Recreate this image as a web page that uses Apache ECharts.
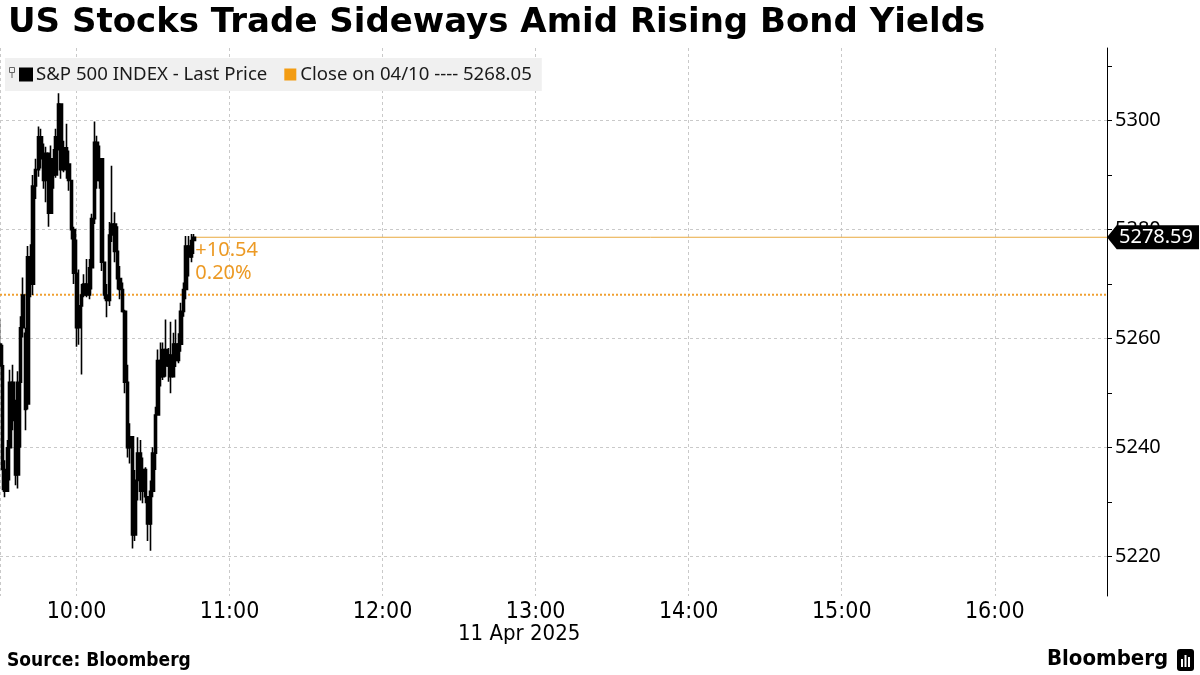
<!DOCTYPE html>
<html><head><meta charset="utf-8">
<script src="https://cdn.jsdelivr.net/npm/echarts@6/dist/echarts.min.js"></script>
<style>html,body{margin:0;padding:0;background:#fff}#c{width:1200px;height:675px}</style>
</head><body><div id="c"></div><script>
// ---- data ----
const chartTitle = 'US Stocks Trade Sideways Amid Rising Bond Yields';
const seriesName = 'S&P 500 INDEX - Last Price';
const closeName = 'Close on 04/10 ---- 5268.05';
const sessionStartMin = 570;   // 09:30
const sessionEndMin = 1004;    // 16:44
const hourLabels = ['10:00', '11:00', '12:00', '13:00', '14:00', '15:00', '16:00'];
const dateLabel = '11 Apr 2025';
const yLabelValues = [5220, 5240, 5260, 5280, 5300];
const yMinorValues = [5230, 5250, 5270, 5290, 5310];
const prevClose = 5268.05;
const lastPrice = 5278.59;
const changeText = '+10.54';
const changePctText = '0.20%';

// one-minute bars from 09:30
const opens = [5259,5255,5236,5232,5240,5252,5245,5235,5252,5262,5261,5248,5275,5270,5288,5291,5297,5293,5289,5294,
  5283,5293,5290,5297,5303,5291,5295,5292,5289,5280,5272,5262,5266,5268,5270,5268,5273,5282,5296,5289,
  5293,5274,5268,5267,5279,5281,5276,5271,5269,5265,5252,5240,5242,5224,5234,5239,5232,5236,5231,5226,
  5232,5239,5246,5256,5253,5258,5255,5257,5253,5259,5256,5259,5265,5269,5277,5275,5278];
const closes = [5255,5236,5232,5240,5252,5245,5235,5252,5262,5268,5247,5275,5270,5288,5291,5297,5293,5289,5294,5283,
  5293,5290,5297,5303,5291,5295,5292,5289,5280,5272,5262,5266,5268,5270,5268,5273,5282,5296,5289,5293,
  5274,5268,5267,5279,5281,5276,5271,5269,5265,5252,5240,5242,5224,5234,5239,5232,5236,5231,5226,5232,
  5239,5246,5256,5253,5258,5255,5257,5253,5259,5256,5259,5265,5269,5277,5275,5278,5278.59];
const lows = [5252.4,5232.2,5230.9,5232.2,5234.0,5243.2,5233.1,5232.5,5240.0,5260.2,5243.2,5247.0,5267.6,5268.0,5285.6,5289.7,5291.2,5287.5,5285.0,5280.5,
  5283.0,5287.5,5289.5,5294.5,5289.3,5290.5,5289.3,5287.1,5278.2,5270.0,5258.5,5258.9,5253.4,5267.6,5267.6,5267.2,5269.0,5281.0,5287.5,5287.5,
  5272.4,5267.2,5263.9,5266.0,5277.7,5274.0,5269.0,5267.2,5264.8,5250.0,5238.2,5237.1,5221.5,5222.9,5230.3,5230.3,5229.8,5229.8,5222.9,5221.1,
  5230.9,5235.9,5246.0,5251.2,5252.4,5253.0,5252.1,5250.0,5253.0,5254.8,5255.5,5257.6,5264.0,5267.2,5271.4,5274.0,5275.5];
const highs = [5263.5,5258.9,5237.7,5241.4,5254.3,5255.2,5248.8,5254.0,5264.1,5271.2,5262.0,5277.0,5277.3,5290.0,5293.0,5298.9,5298.5,5295.8,5295.2,5294.0,
  5295.4,5294.8,5298.5,5305.0,5302.8,5296.3,5299.4,5294.5,5289.0,5280.5,5278.2,5272.7,5270.0,5271.8,5274.6,5274.6,5282.9,5299.8,5297.2,5295.4,
  5293.0,5274.0,5270.0,5281.4,5291.7,5283.2,5280.6,5273.3,5270.3,5265.3,5255.2,5244.5,5242.0,5235.9,5241.9,5241.4,5238.2,5236.4,5231.0,5234.0,
  5240.1,5247.5,5258.0,5259.3,5259.3,5263.5,5258.3,5263.1,5261.1,5263.5,5261.0,5266.6,5270.3,5278.8,5278.8,5279.2,5279.2];

// ---- build axis domain / series data ----
function fmt(m) { const h = Math.floor(m / 60), mm = m % 60; return (h < 10 ? '0' : '') + h + ':' + (mm < 10 ? '0' : '') + mm; }
const categories = [];
for (let m = sessionStartMin; m <= sessionEndMin; m++) categories.push(fmt(m));
const ohlc = opens.map((o, i) => [o, closes[i], lows[i], highs[i]]);
const lastTime = categories[opens.length - 1];
const firstTime = categories[0];
const endTime = categories[categories.length - 1];

const ORANGE = '#ec9a25';
const gridDash = { color: '#c9c9c9', type: [3, 3], width: 1 };
const yMin = 5212.8, yMax = 5313.3;
const NARROW = "'Liberation Sans Narrow', 'DejaVu Sans Condensed', sans-serif";

const chart = echarts.init(document.getElementById('c'), null, { renderer: 'canvas' });
chart.setOption({
  animation: false,
  backgroundColor: '#fff',
  title: {
    text: chartTitle, left: 3, top: 1,
    textStyle: { fontFamily: "'DejaVu Sans', sans-serif", fontWeight: 'bold', fontSize: 34, color: '#000' }
  },
  legend: {
    data: [seriesName, closeName],
    left: 5, top: 58,
    backgroundColor: '#f0f0f0',
    padding: [7, 10, 7, 14],
    itemGap: 17, itemWidth: 12, itemHeight: 12, icon: 'rect',
    textStyle: { fontFamily: "'Noto Sans', sans-serif", fontSize: 18.6, color: '#1a1a1a', padding: [0, 0, 0, -1] },
    selectedMode: false
  },
  grid: { left: 0, right: 93, top: 48, bottom: 79, containLabel: false },
  xAxis: {
    type: 'category', data: categories, boundaryGap: false,
    axisLine: { show: false }, axisTick: { show: false },
    axisLabel: {
      interval: (i, v) => hourLabels.indexOf(v) >= 0,
      fontFamily: NARROW, fontSize: 23, color: '#000', margin: 5
    },
    splitLine: { show: true, interval: (i, v) => i === 0 || hourLabels.indexOf(v) >= 0, lineStyle: gridDash }
  },
  yAxis: [{
    type: 'value', position: 'right', min: yMin, max: yMax, scale: true,
    axisLine: { show: true, lineStyle: { color: '#000', width: 1 } },
    axisTick: { show: true, customValues: yLabelValues, length: 5, lineStyle: { color: '#000' } },
    axisLabel: { customValues: yLabelValues, formatter: v => String(v), fontFamily: "'Noto Sans', sans-serif", fontSize: 20, color: '#000', margin: 8 },
    splitLine: { show: true, lineStyle: gridDash }
  }, {
    type: 'value', position: 'right', min: yMin, max: yMax, scale: true,
    axisLine: { show: false },
    axisTick: { show: true, customValues: yMinorValues, length: 5, lineStyle: { color: '#000' } },
    axisLabel: { show: false, customValues: yMinorValues },
    splitLine: { show: false }
  }],
  series: [{
    name: seriesName, type: 'candlestick', data: ohlc, barWidth: 3,
    itemStyle: { color: '#000', color0: '#000', borderColor: '#000', borderColor0: '#000', borderWidth: 1.6 },
    z: 5
  }, {
    name: closeName, type: 'line', data: [[firstTime, prevClose], [endTime, prevClose]],
    symbol: 'none', itemStyle: { color: '#f39c12' },
    lineStyle: { color: '#f0a030', type: [2, 2], width: 2 }, z: 3
  }, {
    name: 'last', type: 'line', data: [[lastTime, lastPrice], [endTime, lastPrice]],
    symbol: 'none', lineStyle: { color: '#e9a93f', width: 1 }, z: 4,
    markPoint: {
      silent: true,
      data: [{
        coord: [endTime, lastPrice],
        symbol: 'path://M0,12 L10,0 L95,0 L95,24 L10,24 Z', symbolSize: [92, 24], symbolOffset: [46, 0],
        itemStyle: { color: '#000' },
        label: { show: true, formatter: lastPrice.toFixed(2), color: '#fff', fontFamily: "'Noto Sans', sans-serif", fontSize: 20, offset: [3, 0] }
      }, {
        coord: [lastTime, lastPrice],
        symbol: 'circle', symbolSize: 1, itemStyle: { color: 'rgba(0,0,0,0)' },
        label: {
          show: true, position: 'right', distance: 0, offset: [1, 25], align: 'left',
          formatter: changeText + '\n' + changePctText, color: ORANGE,
          fontFamily: "'Noto Sans', sans-serif", fontSize: 20, lineHeight: 23
        }
      }]
    }
  }],
  graphic: [
    { type: 'text', left: 458, top: 623, z: 100, style: { text: dateLabel, fill: '#000', font: "22px " + NARROW } },
    { type: 'text', left: 7, top: 652, z: 100, style: { text: 'Source: Bloomberg', fill: '#000', font: "bold 19px 'DejaVu Sans Condensed', 'DejaVu Sans', sans-serif" } },
    { type: 'text', left: 1047, top: 648, z: 100, style: { text: 'Bloomberg', fill: '#000', font: "bold 22px 'DejaVu Sans Condensed', 'DejaVu Sans', sans-serif" } },
    { type: 'rect', z: 100, shape: { x: 1177, y: 649, width: 17, height: 22, r: 3 }, style: { fill: '#000' } },
    { type: 'rect', z: 101, shape: { x: 1181, y: 659, width: 2, height: 8 }, style: { fill: '#fff' } },
    { type: 'rect', z: 101, shape: { x: 1184.5, y: 655, width: 2, height: 12 }, style: { fill: '#fff' } },
    { type: 'rect', z: 101, shape: { x: 1188, y: 657, width: 2, height: 10 }, style: { fill: '#fff' } },
    { type: 'rect', z: 100, shape: { x: 9.5, y: 67.5, width: 5, height: 5 }, style: { fill: 'none', stroke: '#666', lineWidth: 1 } },
    { type: 'line', z: 100, shape: { x1: 12, y1: 72.5, x2: 12, y2: 78 }, style: { stroke: '#666', lineWidth: 1 } }
  ]
});
</script></body></html>
